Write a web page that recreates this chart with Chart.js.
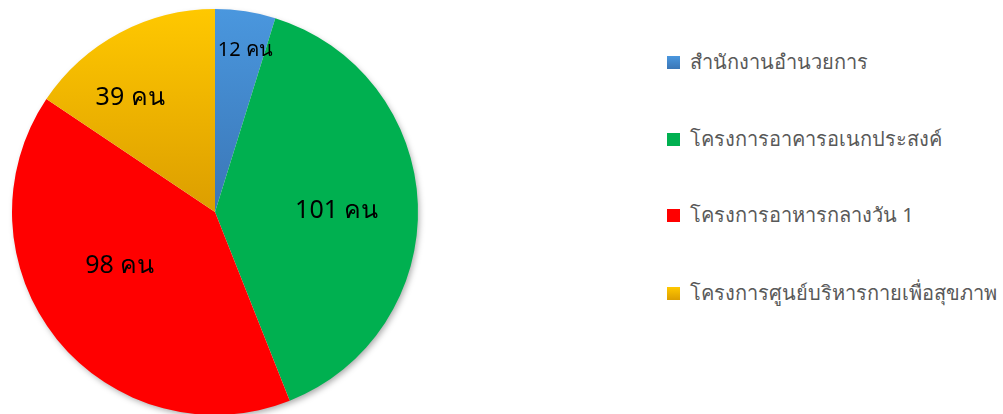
<!DOCTYPE html>
<html>
<head>
<meta charset="utf-8">
<script src="https://cdn.jsdelivr.net/npm/chart.js@4.4.0/dist/chart.umd.min.js"></script>
<style>
  html, body { margin: 0; padding: 0; background: #fff; overflow: hidden; }
  body { width: 1003px; height: 414px; position: relative; font-family: "Noto Sans", Tahoma, sans-serif; }
  #pieBox { position: absolute; left: 0; top: 0; width: 430px; height: 420px; }
  #legenda { position: absolute; left: 667px; top: 0; width: 340px; }
  .item { position: absolute; left: 0; white-space: nowrap; font-size: 20px; color: #595959; display: flex; align-items: center; }
  .item span.box { width: 13px; height: 13px; margin-right: 10px; display: inline-block; }
</style>
</head>
<body>
<div id="pieBox"><canvas id="graficoPie"></canvas></div>
<div id="legenda"></div>
<script>
// dados (slice sizes as drawn in the picture; texts as printed on it)
const categorias = ['สำนักงานอำนวยการ', 'โครงการอาคารอเนกประสงค์', 'โครงการอาหารกลางวัน 1', 'โครงการศูนย์บริหารกายเพื่อสุขภาพ']
const valores = [12, 98, 101, 39]
const rotulos = ['12 คน', '101 คน', '98 คน', '39 คน']

const cores = ['#4a97de', '#00b050', '#ff0000', '#ffc800']
const coresEscuras = ['#3a76b6', '#00b050', '#ff0000', '#dc9e00']

function getColor(i, ctx, area) {
    if (!area || cores[i] == coresEscuras[i]) return cores[i]
    let g = ctx.createLinearGradient(0, area.top, 0, area.bottom)
    g.addColorStop(0, cores[i])
    g.addColorStop(0.5, coresEscuras[i])
    g.addColorStop(1, coresEscuras[i])
    return g
}

// label position per slice (fraction of radius) + angle nudge
const posRaio = [0.81, 0.6, 0.54, 0.7]
const ajusteAng = [0.035, 0.03, 0.16, -0.15]
const tamFonte = [20, 25, 25, 25]

// soft shadow under the whole pie
const sombraPlugin = {
    id: 'sombraPlugin',
    beforeDatasetsDraw(chart) {
        const ctx = chart.ctx
        const arc = chart.getDatasetMeta(0).data[0]
        if (!arc) return
        ctx.save()
        ctx.shadowColor = 'rgba(0,0,0,0.35)'
        ctx.shadowBlur = 6
        ctx.shadowOffsetX = 2
        ctx.shadowOffsetY = 3
        ctx.fillStyle = '#fff'
        ctx.beginPath()
        ctx.arc(arc.x, arc.y, arc.outerRadius - 1, 0, Math.PI * 2)
        ctx.fill()
        ctx.restore()
    }
}

const rotulosPlugin = {
    id: 'rotulosPlugin',
    afterDatasetsDraw(chart) {
        const ctx = chart.ctx
        const meta = chart.getDatasetMeta(0)
        ctx.save()
        meta.data.forEach((arc, i) => {
            let p = arc.getProps(['x', 'y', 'startAngle', 'endAngle', 'outerRadius'], true)
            let ang = (p.startAngle + p.endAngle) / 2 + ajusteAng[i]
            let r = p.outerRadius * posRaio[i]
            let x = p.x + Math.cos(ang) * r
            let y = p.y + Math.sin(ang) * r
            ctx.font = tamFonte[i] + 'px "Noto Sans", Tahoma, sans-serif'
            ctx.fillStyle = '#000'
            ctx.textAlign = 'center'
            ctx.textBaseline = 'middle'
            ctx.fillText(rotulos[i], x, y)
        })
        ctx.restore()
    }
}

const graficoPie = new Chart(document.getElementById('graficoPie'), {
    type: 'pie',
    data: {
        labels: categorias,
        datasets: [{
            data: valores,
            backgroundColor: function (c) {
                return getColor(c.dataIndex, c.chart.ctx, c.chart.chartArea)
            },
            borderWidth: 0
        }]
    },
    options: {
        responsive: true,
        maintainAspectRatio: false,
        animation: false,
        layout: {
            padding: { top: 9, left: 10, right: 10, bottom: 5 }
        },
        plugins: {
            legend: { display: false },
            tooltip: { enabled: false }
        }
    },
    plugins: [sombraPlugin, rotulosPlugin]
})

// legenda
const topos = [60, 137, 213, 291]
const legenda = document.getElementById('legenda')
categorias.forEach((c, i) => {
    let div = document.createElement('div')
    div.className = 'item'
    div.style.top = (topos[i] - 14) + 'px'
    let box = document.createElement('span')
    box.className = 'box'
    box.style.background = cores[i] == coresEscuras[i] ? cores[i] : `linear-gradient(${cores[i]}, ${coresEscuras[i]})`
    div.appendChild(box)
    div.appendChild(document.createTextNode(c))
    legenda.appendChild(div)
})
</script>
</body>
</html>
